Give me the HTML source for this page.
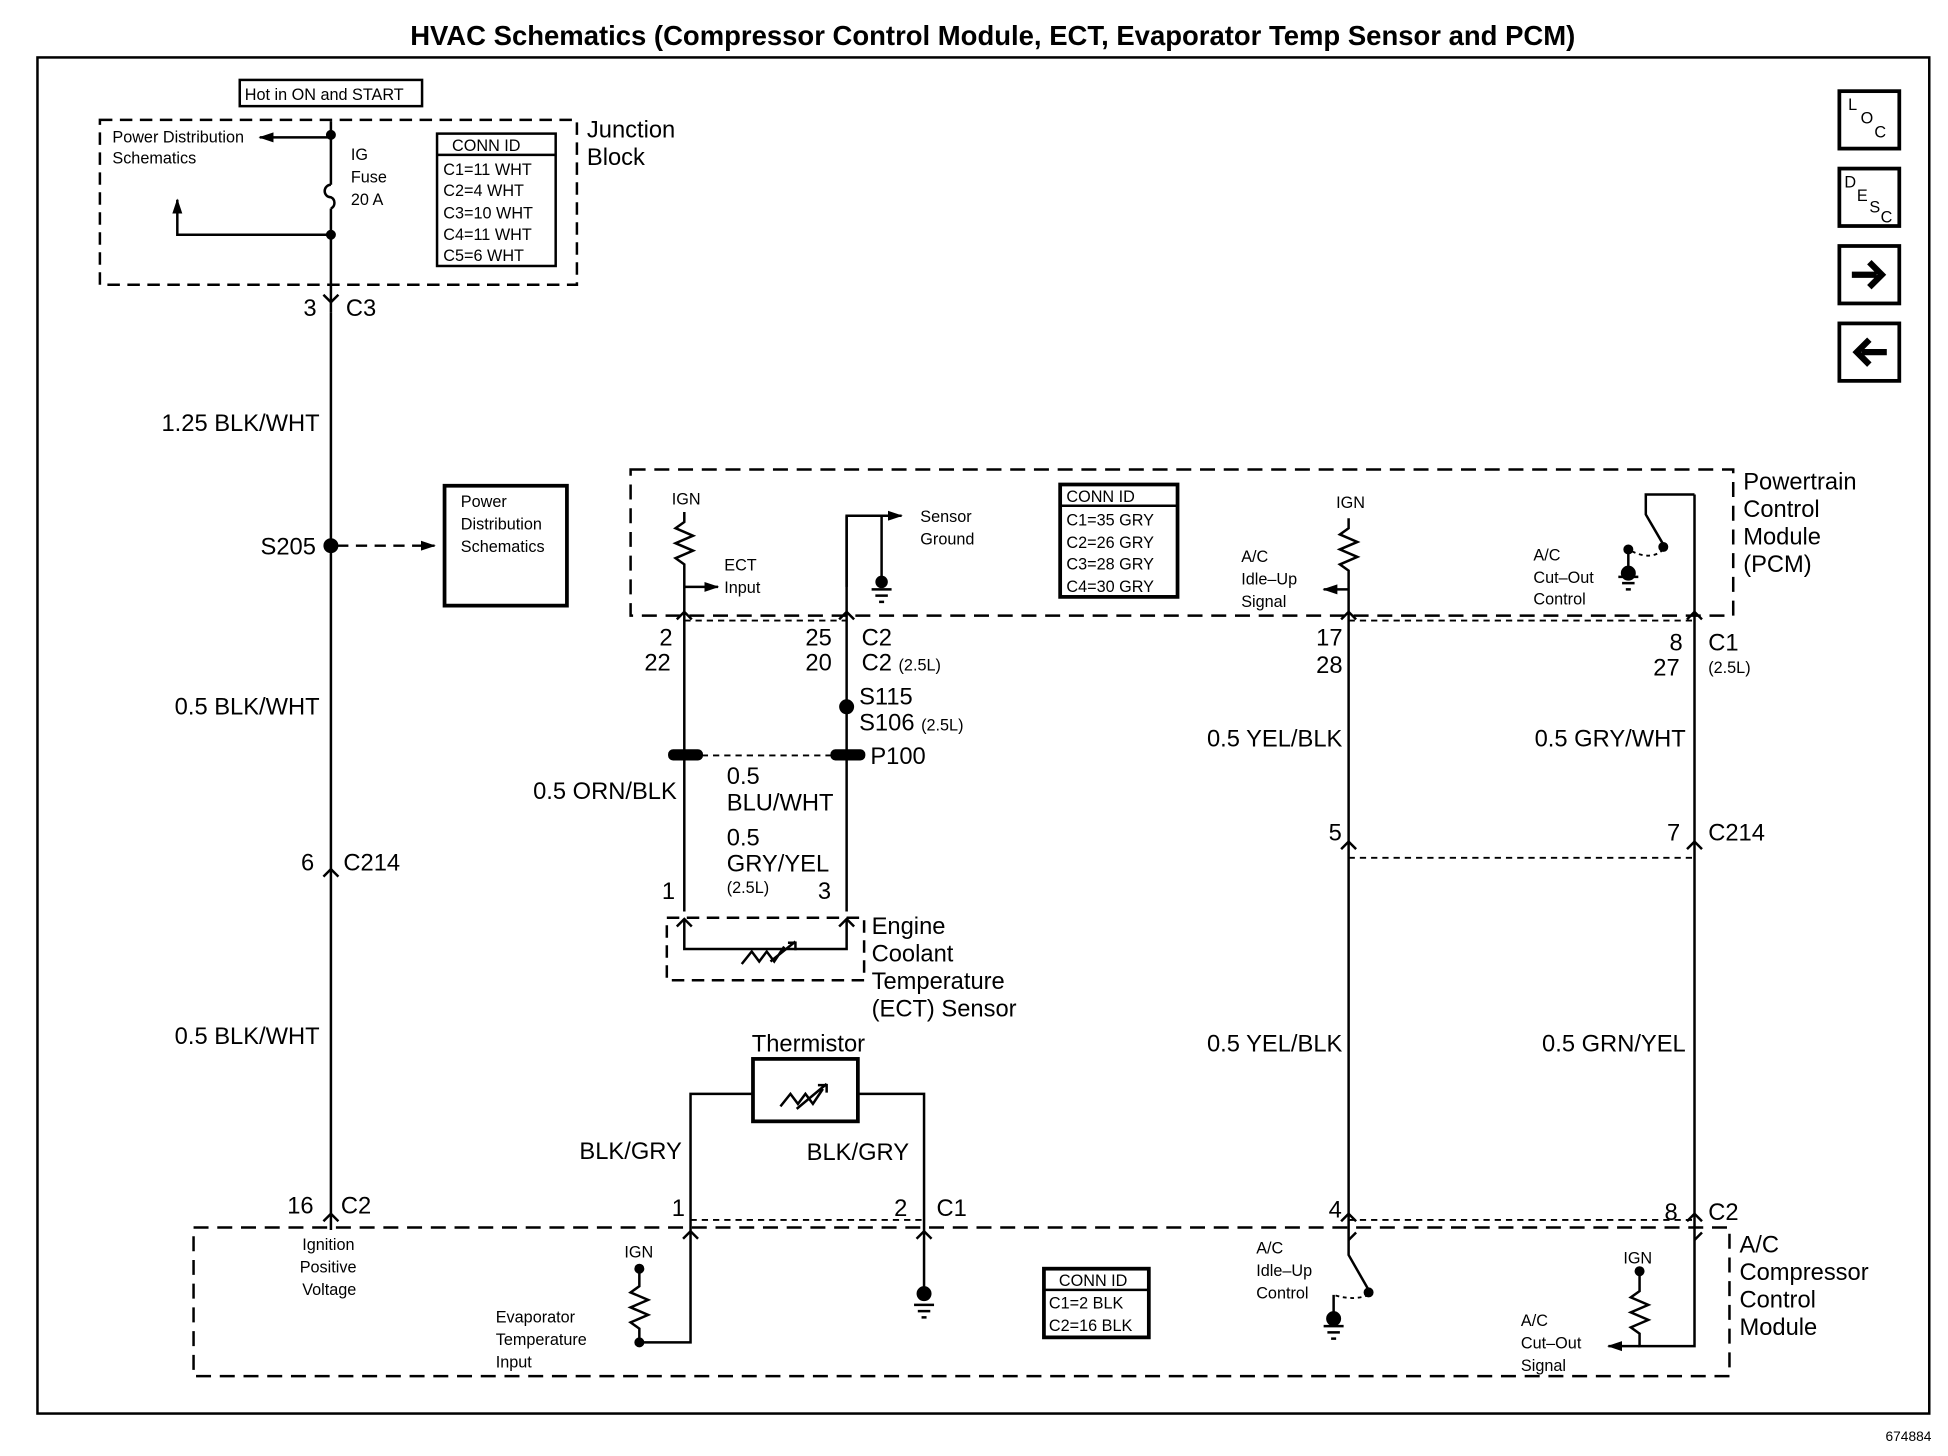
<!DOCTYPE html>
<html><head><meta charset="utf-8"><style>
html,body{margin:0;padding:0;background:#fff}
svg{display:block}
text{font-family:"Liberation Sans",Arial,sans-serif;fill:#000}
.t{font-size:19px}
.s{font-size:13px}
.b{font-weight:bold}
</style></head><body>
<svg width="1948" height="1456" viewBox="0 0 1560 1166" xmlns="http://www.w3.org/2000/svg">
<defs>
<marker id="ah" markerUnits="userSpaceOnUse" markerWidth="12" markerHeight="10" refX="11" refY="5" orient="auto"><path d="M0,1 L12,5 L0,9 z" fill="#000"/></marker>
</defs>
<g stroke="#000" fill="none" stroke-width="2">
<text x="795" y="36" text-anchor="middle" class="b" style="font-size:22px" stroke="none">HVAC Schematics (Compressor Control Module, ECT, Evaporator Temp Sensor and PCM)</text>
<rect x="30" y="46" width="1515" height="1086"/>
<rect x="1473" y="73" width="48" height="46" stroke-width="3"/>
<rect x="1473" y="135" width="48" height="46" stroke-width="3"/>
<rect x="1473" y="197" width="48" height="46" stroke-width="3"/>
<rect x="1473" y="259" width="48" height="46" stroke-width="3"/>
<path d="M1483,220 h20 M1497,210 l10,10 l-10,10" stroke-width="5"/>
<path d="M1511,282 h-20 M1497,272 l-10,10 l10,10" stroke-width="5"/>
<rect x="192" y="64" width="146" height="21"/>
<rect x="80" y="96" width="382" height="132" stroke-dasharray="10,6"/>
<path d="M265,97 V148 M265,167 V250"/>
<path d="M265,148 a5,5 0 0 0 0,10 a5,5 0 0 1 0,9"/>
<path d="M265,110 H208" marker-end="url(#ah)"/>
<path d="M265,188 H142 V160" marker-end="url(#ah)"/>
<circle cx="265" cy="108" r="3" fill="#000"/><circle cx="265" cy="188" r="3" fill="#000"/>
<rect x="350" y="107" width="95" height="106"/><line x1="350" y1="124" x2="445" y2="124"/>
<path d="M265,250 V985"/>
<path d="M259,236 l6,6 l6,-6 M259,702 l6,-6 l6,6 M259,978 l6,-6 l6,6" />
<circle cx="265" cy="437" r="5" fill="#000"/>
<path d="M270,437 H348" stroke-dasharray="9,6" marker-end="url(#ah)"/>
<rect x="356" y="389" width="98" height="96" stroke-width="3"/>
<rect x="505" y="376" width="883" height="117" stroke-dasharray="12,7"/>
<rect x="849" y="388" width="94" height="90" stroke-width="3"/><line x1="849" y1="405" x2="943" y2="405"/>
<path d="M548,410 V418 l-7,5 l14,6 l-14,6 l14,6 l-14,6 l7,5 V730"/>
<path d="M548,470 H575" marker-end="url(#ah)"/>
<path d="M678,470 V413 H722" marker-end="url(#ah)"/>
<path d="M678,413 V730"/>
<path d="M706,413 V470"/><path d="M698,472 h16 M701,477 h10 M704,482 h4"/>
<circle cx="706" cy="466" r="4" fill="#000"/>
<path d="M542,496 l6,-6 l6,6 M672,496 l6,-6 l6,6"/>
<path d="M548,497 H678" stroke-dasharray="5,4" stroke-width="1.5"/>
<circle cx="678" cy="566" r="5" fill="#000"/>
<rect x="536" y="601" width="26" height="7" rx="3" fill="#000"/>
<rect x="666" y="601" width="26" height="7" rx="3" fill="#000"/>
<path d="M562,605 H666" stroke-dasharray="5,4" stroke-width="1.5"/>
<rect x="534" y="735" width="158" height="50" stroke-dasharray="10,6"/>
<path d="M542,742 l6,-6 l6,6 M672,742 l6,-6 l6,6"/>
<path d="M548,737 V760 H678 V737"/>
<path d="M594,772 l8,-10 l6,8 l6,-8 l6,8 l8,-12 M617,770 l20,-16 M631,755 h6 v6"/>
<path d="M1080,415 V423 l-7,5 l14,6 l-14,6 l14,6 l-14,6 l7,5 V985"/>
<path d="M1080,472 H1060" marker-end="url(#ah)"/>
<path d="M1074,496 l6,-6 l6,6 M1074,680 l6,-6 l6,6 M1074,978 l6,-6 l6,6"/>
<path d="M1357,396 H1318 V412 l14,24"/><circle cx="1332" cy="438" r="3" fill="#000"/>
<path d="M1357,396 V985"/>
<path d="M1351,496 l6,-6 l6,6 M1351,680 l6,-6 l6,6 M1351,978 l6,-6 l6,6"/>
<path d="M1332,440 q-10,10 -28,0" stroke-dasharray="3,3" stroke-width="1.5"/>
<circle cx="1304" cy="440" r="3" fill="#000"/><path d="M1304,440 V458 M1296,462 h16 M1299,467 h10 M1302,472 h4"/><circle cx="1304" cy="459" r="5" fill="#000"/>
<path d="M1080,497 H1357" stroke-dasharray="5,4" stroke-width="1.5"/>
<path d="M1080,687 H1357" stroke-dasharray="5,4" stroke-width="1.5"/>
<rect x="603" y="848" width="84" height="50" stroke-width="3"/>
<path d="M553,985 V876 H603 M687,876 H740 V1040"/>
<path d="M625,886 l8,-10 l6,8 l6,-8 l6,8 l8,-12 M638,888 l24,-20 M655,869 h7 v6"/>
<rect x="155" y="983" width="1230" height="119" stroke-dasharray="12,7"/>
<path d="M553,985 V1075 H512 M512,1075 V1064 l-7,-5 l14,-6 l-14,-6 l14,-6 l-14,-6 l7,-5 V1016"/>
<circle cx="512" cy="1075" r="3" fill="#000"/><circle cx="512" cy="1016" r="3" fill="#000"/>
<path d="M547,992 l6,-6 l6,6 M734,992 l6,-6 l6,6"/>
<path d="M553,977 H740" stroke-dasharray="5,4" stroke-width="1.5"/>
<circle cx="740" cy="1036" r="5" fill="#000"/><path d="M732,1045 h16 M735,1050 h10 M738,1055 h4"/>
<rect x="836" y="1016" width="84" height="55" stroke-width="3"/><line x1="836" y1="1033" x2="920" y2="1033"/>
<path d="M1080,985 V1005 l16,28"/><circle cx="1096" cy="1035" r="3" fill="#000"/>
<path d="M1096,1037 q-12,5 -28,0" stroke-dasharray="3,3" stroke-width="1.5"/>
<path d="M1068,1037 V1052 M1060,1062 h16 M1063,1067 h10 M1066,1072 h4"/><circle cx="1068" cy="1056" r="5" fill="#000"/>
<path d="M1080,993 l6,-6 M1357,993 l6,-6"/>
<path d="M1357,985 V1078 H1313 V1068 l-7,-5 l14,-6 l-14,-6 l14,-6 l-14,-6 l7,-5 V1018"/>
<path d="M1313,1078 H1288" marker-end="url(#ah)"/>
<circle cx="1313" cy="1018" r="3" fill="#000"/>
<path d="M1080,977 H1357" stroke-dasharray="5,4" stroke-width="1.5"/>
</g>
<g>
<text x="196" y="80" class="s">Hot in ON and START</text>
<text x="90" y="114" class="s">Power Distribution</text>
<text x="90" y="131" class="s">Schematics</text>
<text x="281" y="128" class="s">IG</text><text x="281" y="146" class="s">Fuse</text><text x="281" y="164" class="s">20 A</text>
<text x="362" y="121" class="s">CONN ID</text>
<text x="355" y="140" class="s">C1=11 WHT</text><text x="355" y="157" class="s">C2=4 WHT</text><text x="355" y="175" class="s">C3=10 WHT</text><text x="355" y="192" class="s">C4=11 WHT</text><text x="355" y="209" class="s">C5=6 WHT</text>
<text x="470" y="110" class="t">Junction</text><text x="470" y="132" class="t">Block</text>
<text x="243" y="253" class="t">3</text><text x="277" y="253" class="t">C3</text>
<text x="256" y="345" class="t" text-anchor="end">1.25 BLK/WHT</text>
<text x="253" y="444" class="t" text-anchor="end">S205</text>
<text x="369" y="406" class="s">Power</text><text x="369" y="424" class="s">Distribution</text><text x="369" y="442" class="s">Schematics</text>
<text x="256" y="572" class="t" text-anchor="end">0.5 BLK/WHT</text>
<text x="241" y="697" class="t">6</text><text x="275" y="697" class="t">C214</text>
<text x="256" y="836" class="t" text-anchor="end">0.5 BLK/WHT</text>
<text x="230" y="972" class="t">16</text><text x="273" y="972" class="t">C2</text>
<text x="242" y="1001" class="s">Ignition</text><text x="240" y="1019" class="s">Positive</text><text x="242" y="1037" class="s">Voltage</text>
<text x="538" y="404" class="s">IGN</text>
<text x="580" y="457" class="s">ECT</text><text x="580" y="475" class="s">Input</text>
<text x="737" y="418" class="s">Sensor</text><text x="737" y="436" class="s">Ground</text>
<text x="854" y="402" class="s">CONN ID</text>
<text x="854" y="421" class="s">C1=35 GRY</text><text x="854" y="439" class="s">C2=26 GRY</text><text x="854" y="456" class="s">C3=28 GRY</text><text x="854" y="474" class="s">C4=30 GRY</text>
<text x="1070" y="407" class="s">IGN</text>
<text x="994" y="450" class="s">A/C</text><text x="994" y="468" class="s">Idle–Up</text><text x="994" y="486" class="s">Signal</text>
<text x="1228" y="449" class="s">A/C</text><text x="1228" y="467" class="s">Cut–Out</text><text x="1228" y="484" class="s">Control</text>
<text x="1396" y="392" class="t">Powertrain</text><text x="1396" y="414" class="t">Control</text><text x="1396" y="436" class="t">Module</text><text x="1396" y="458" class="t">(PCM)</text>
<text x="528" y="517" class="t">2</text><text x="516" y="537" class="t">22</text>
<text x="645" y="517" class="t">25</text><text x="645" y="537" class="t">20</text>
<text x="690" y="517" class="t">C2</text><text x="690" y="537" class="t">C2 <tspan class="s">(2.5L)</tspan></text>
<text x="688" y="564" class="t">S115</text><text x="688" y="585" class="t">S106 <tspan class="s">(2.5L)</tspan></text>
<text x="697" y="612" class="t">P100</text>
<text x="542" y="640" class="t" text-anchor="end">0.5 ORN/BLK</text>
<text x="582" y="628" class="t">0.5</text><text x="582" y="649" class="t">BLU/WHT</text>
<text x="582" y="677" class="t">0.5</text><text x="582" y="698" class="t">GRY/YEL</text><text x="582" y="715" class="s">(2.5L)</text>
<text x="530" y="720" class="t">1</text><text x="655" y="720" class="t">3</text>
<text x="698" y="748" class="t">Engine</text><text x="698" y="770" class="t">Coolant</text><text x="698" y="792" class="t">Temperature</text><text x="698" y="814" class="t">(ECT) Sensor</text>
<text x="1054" y="517" class="t">17</text><text x="1054" y="539" class="t">28</text>
<text x="1337" y="521" class="t">8</text><text x="1324" y="541" class="t">27</text>
<text x="1368" y="521" class="t">C1</text><text x="1368" y="539" class="s">(2.5L)</text>
<text x="1075" y="598" class="t" text-anchor="end">0.5 YEL/BLK</text>
<text x="1350" y="598" class="t" text-anchor="end">0.5 GRY/WHT</text>
<text x="1064" y="673" class="t">5</text><text x="1335" y="673" class="t">7</text><text x="1368" y="673" class="t">C214</text>
<text x="1075" y="842" class="t" text-anchor="end">0.5 YEL/BLK</text>
<text x="1350" y="842" class="t" text-anchor="end">0.5 GRN/YEL</text>
<text x="602" y="842" class="t">Thermistor</text>
<text x="546" y="928" class="t" text-anchor="end">BLK/GRY</text>
<text x="646" y="929" class="t">BLK/GRY</text>
<text x="538" y="974" class="t">1</text><text x="716" y="974" class="t">2</text><text x="750" y="974" class="t">C1</text>
<text x="1064" y="975" class="t">4</text><text x="1333" y="977" class="t">8</text><text x="1368" y="977" class="t">C2</text>
<text x="500" y="1007" class="s">IGN</text>
<text x="397" y="1059" class="s">Evaporator</text><text x="397" y="1077" class="s">Temperature</text><text x="397" y="1095" class="s">Input</text>
<text x="848" y="1030" class="s">CONN ID</text><text x="840" y="1048" class="s">C1=2 BLK</text><text x="840" y="1066" class="s">C2=16 BLK</text>
<text x="1006" y="1004" class="s">A/C</text><text x="1006" y="1022" class="s">Idle–Up</text><text x="1006" y="1040" class="s">Control</text>
<text x="1300" y="1012" class="s">IGN</text>
<text x="1218" y="1062" class="s">A/C</text><text x="1218" y="1080" class="s">Cut–Out</text><text x="1218" y="1098" class="s">Signal</text>
<text x="1393" y="1003" class="t">A/C</text><text x="1393" y="1025" class="t">Compressor</text><text x="1393" y="1047" class="t">Control</text><text x="1393" y="1069" class="t">Module</text>
<text x="1510" y="1154" style="font-size:11px">674884</text>
<text x="1480" y="88" class="s">L</text><text x="1490" y="99" class="s">O</text><text x="1501" y="110" class="s">C</text>
<text x="1477" y="150" class="s">D</text><text x="1487" y="161" class="s">E</text><text x="1497" y="170" class="s">S</text><text x="1506" y="178" class="s">C</text>
</g>
</svg>
</body></html>
